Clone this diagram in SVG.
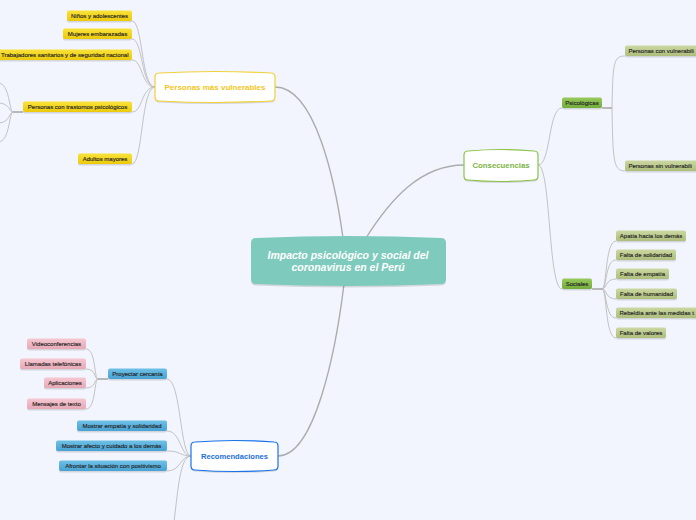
<svg xmlns="http://www.w3.org/2000/svg" width="696" height="520" viewBox="0 0 696 520">
<style>
.bg{fill:#f2f5fd}
.c{fill:none;stroke:#bcbcbc;stroke-width:0.9}
.cm{fill:none;stroke:#acacac;stroke-width:1.4}
.stub{fill:none;stroke:#a9a9a9;stroke-width:1.6}
.sh{fill:#000;opacity:0.13}
.t{font-family:"Liberation Sans",Arial,sans-serif;font-size:6px;fill:#262626;stroke:#262626;stroke-width:0.15;text-anchor:middle}
.tl{text-anchor:start}
.te{text-anchor:end}
.mt{font-family:"Liberation Sans",Arial,sans-serif;font-weight:bold;text-anchor:middle}
</style>
<defs>
<linearGradient id="gy" x1="0" y1="0" x2="0" y2="1"><stop offset="0" stop-color="#f9e23a"/><stop offset="1" stop-color="#ecca0a"/></linearGradient>
<linearGradient id="gg" x1="0" y1="0" x2="0" y2="1"><stop offset="0" stop-color="#98c95c"/><stop offset="1" stop-color="#72ad3a"/></linearGradient>
<linearGradient id="go" x1="0" y1="0" x2="0" y2="1"><stop offset="0" stop-color="#cbd8a2"/><stop offset="1" stop-color="#adbe7b"/></linearGradient>
<linearGradient id="gb" x1="0" y1="0" x2="0" y2="1"><stop offset="0" stop-color="#6fc0e6"/><stop offset="1" stop-color="#47a2d3"/></linearGradient>
<linearGradient id="gp" x1="0" y1="0" x2="0" y2="1"><stop offset="0" stop-color="#f5c8d1"/><stop offset="1" stop-color="#e8a8b6"/></linearGradient>
</defs>
<rect class="bg" x="0" y="0" width="696" height="520"/>

<g id="connectors">
<path class="cm" d="M343,238 C335,180 315,87 275,87"/>
<path class="cm" d="M366,238 C390,200 420,165 464,165"/>
<path class="cm" d="M344,284 C336,350 315,456 278,456"/>

<path class="c" d="M132,21 C143,21 141,87 155,87"/>
<path class="c" d="M132,39 C143,39 141,87 155,87"/>
<path class="c" d="M132,60 C143,60 141,87 155,87"/>
<path class="c" d="M132,112 C143,112 141,87 155,87"/>
<path class="c" d="M132,164 C143,164 141,87 155,87"/>

<path class="stub" d="M23,112 H13"/>
<path class="c" d="M13,112 C9,112 10,83 -2,83"/>
<path class="c" d="M13,112 C9,112 10,103 -2,103"/>
<path class="c" d="M13,112 C9,112 10,123 -2,123"/>
<path class="c" d="M13,112 C9,112 10,142 -2,142"/>

<path class="c" d="M538,165 C551,165 548,108 562,108"/>
<path class="c" d="M538,165 C551,165 548,289 562,289"/>

<path class="stub" d="M602,108 H612"/>
<path class="c" d="M612,108 C613,64 613,56 625,56"/>
<path class="c" d="M612,108 C613,160 613,171 625,171"/>

<path class="stub" d="M592,289 H602"/>
<path class="c" d="M602,289 C607,289 605,241 616,241"/>
<path class="c" d="M602,289 C607,289 605,260 616,260"/>
<path class="c" d="M602,289 C607,289 605,279 616,279"/>
<path class="c" d="M602,289 C607,289 605,299 616,299"/>
<path class="c" d="M602,289 C607,289 605,318 616,318"/>
<path class="c" d="M602,289 C607,289 605,338 616,338"/>

<path class="c" d="M191,456 C180,456 181,379 167,379"/>
<path class="c" d="M191,456 C180,456 181,431 167,431"/>
<path class="c" d="M191,456 C180,456 181,451 167,451"/>
<path class="c" d="M191,456 C180,456 181,471 167,471"/>
<path class="c" d="M191,456 C180,456 178,490 174,522"/>

<path class="stub" d="M108,379 H98"/>
<path class="c" d="M98,379 C94,379 96,349 86,349"/>
<path class="c" d="M98,379 C94,379 96,369 86,369"/>
<path class="c" d="M98,379 C94,379 96,388 86,388"/>
<path class="c" d="M98,379 C94,379 96,409 86,409"/>
</g>

<g id="root">
<path class="sh" transform="translate(0,1.5)" d="M256,238 Q348.5,234 441,238 Q446,238 446,243 L446,279 Q446,284 441,284 Q348.5,288 256,284 Q251,284 251,279 L251,243 Q251,238 256,238 Z"/>
<path fill="#7ecbbd" d="M256,238 Q348.5,234 441,238 Q446,238 446,243 L446,279 Q446,284 441,284 Q348.5,288 256,284 Q251,284 251,279 L251,243 Q251,238 256,238 Z"/>
<text class="mt" font-style="italic" font-size="10.5" fill="#ffffff" x="348" y="259">Impacto psicológico y social del</text>
<text class="mt" font-style="italic" font-size="10.5" fill="#ffffff" x="348" y="270.5">coronavirus en el Perú</text>
</g>

<g id="n-vulnerables">
<path class="sh" transform="translate(0,1.5)" d="M159,73 Q215,70 271,73 Q275,73 275,77 L275,97 Q275,101 271,101 Q215,104 159,101 Q155,101 155,97 L155,77 Q155,73 159,73 Z"/>
<path fill="#ffffff" stroke="#f1d13a" stroke-width="1.2" d="M159,73 Q215,70 271,73 Q275,73 275,77 L275,97 Q275,101 271,101 Q215,104 159,101 Q155,101 155,97 L155,77 Q155,73 159,73 Z"/>
<text class="mt" font-size="8" fill="#f3c61c" x="215" y="90.3">Personas más vulnerables</text>
</g>

<g id="n-consecuencias">
<path class="sh" transform="translate(0,1.5)" d="M468,151 Q501,148 534,151 Q538,151 538,155 L538,176 Q538,180 534,180 Q501,183 468,180 Q464,180 464,176 L464,155 Q464,151 468,151 Z"/>
<path fill="#ffffff" stroke="#8bc34a" stroke-width="1.2" d="M468,151 Q501,148 534,151 Q538,151 538,155 L538,176 Q538,180 534,180 Q501,183 468,180 Q464,180 464,176 L464,155 Q464,151 468,151 Z"/>
<text class="mt" font-size="7.8" fill="#7cb342" x="501" y="168.3">Consecuencias</text>
</g>

<g id="n-recomendaciones">
<path class="sh" transform="translate(0,1.5)" d="M195,442 Q234.5,439 274,442 Q278,442 278,446 L278,466 Q278,470 274,470 Q234.5,473 195,470 Q191,470 191,466 L191,446 Q191,442 195,442 Z"/>
<path fill="#ffffff" stroke="#1a73e8" stroke-width="1.2" d="M195,442 Q234.5,439 274,442 Q278,442 278,446 L278,466 Q278,470 274,470 Q234.5,473 195,470 Q191,470 191,466 L191,446 Q191,442 195,442 Z"/>
<text class="mt" font-size="7.6" fill="#1e6fd9" x="234.5" y="458.8">Recomendaciones</text>
</g>

<!-- yellow -->
<g id="n-ninos"><rect class="sh" x="67" y="12" width="65" height="10.5" rx="2"/><rect fill="url(#gy)" x="67" y="10.5" width="65" height="10.5" rx="2"/><text class="t" x="99.5" y="17.9">Niños y adolescentes</text></g>
<g id="n-mujeres"><rect class="sh" x="63" y="30" width="69" height="10.5" rx="2"/><rect fill="url(#gy)" x="63" y="28.5" width="69" height="10.5" rx="2"/><text class="t" x="97.5" y="35.9">Mujeres embarazadas</text></g>
<g id="n-trabajadores"><rect class="sh" x="-10" y="51" width="142" height="10.5" rx="2"/><rect fill="url(#gy)" x="-10" y="49.5" width="142" height="10.5" rx="2"/><text class="t te" x="128.5" y="56.9">Trabajadores sanitarios y de seguridad nacional</text></g>
<g id="n-trastornos"><rect class="sh" x="23" y="103" width="109" height="10.5" rx="2"/><rect fill="url(#gy)" x="23" y="101.5" width="109" height="10.5" rx="2"/><text class="t" x="77.5" y="108.9">Personas con trastornos psicológicos</text></g>
<g id="n-adultos"><rect class="sh" x="78" y="155" width="54" height="10.5" rx="2"/><rect fill="url(#gy)" x="78" y="153.5" width="54" height="10.5" rx="2"/><text class="t" x="105" y="160.9">Adultos mayores</text></g>

<!-- green -->
<g id="n-psicologicas"><rect class="sh" x="562" y="99" width="40" height="10.5" rx="2"/><rect fill="url(#gg)" x="562" y="97.5" width="40" height="10.5" rx="2"/><text class="t" x="582" y="104.9">Psicológicas</text></g>
<g id="n-sociales"><rect class="sh" x="562" y="280" width="30" height="10.5" rx="2"/><rect fill="url(#gg)" x="562" y="278.5" width="30" height="10.5" rx="2"/><text class="t" x="577" y="285.9">Sociales</text></g>

<!-- olive -->
<g id="n-con-vuln"><rect class="sh" x="625" y="47" width="90" height="10.5" rx="2"/><rect fill="url(#go)" x="625" y="45.5" width="90" height="10.5" rx="2"/><text class="t tl" x="628.5" y="52.9">Personas con vulnerabili</text></g>
<g id="n-sin-vuln"><rect class="sh" x="625" y="162" width="90" height="10.5" rx="2"/><rect fill="url(#go)" x="625" y="160.5" width="90" height="10.5" rx="2"/><text class="t tl" x="628.5" y="167.9">Personas sin vulnerabili</text></g>
<g id="n-apatia"><rect class="sh" x="616" y="232" width="70" height="10.5" rx="2"/><rect fill="url(#go)" x="616" y="230.5" width="70" height="10.5" rx="2"/><text class="t" x="651" y="237.9">Apatía hacia los demás</text></g>
<g id="n-solidaridad"><rect class="sh" x="616" y="251" width="60" height="10.5" rx="2"/><rect fill="url(#go)" x="616" y="249.5" width="60" height="10.5" rx="2"/><text class="t" x="646" y="256.9">Falta de solidaridad</text></g>
<g id="n-empatia"><rect class="sh" x="616" y="270" width="53" height="10.5" rx="2"/><rect fill="url(#go)" x="616" y="268.5" width="53" height="10.5" rx="2"/><text class="t" x="642.5" y="275.9">Falta de empatía</text></g>
<g id="n-humanidad"><rect class="sh" x="616" y="290" width="61" height="10.5" rx="2"/><rect fill="url(#go)" x="616" y="288.5" width="61" height="10.5" rx="2"/><text class="t" x="646.5" y="295.9">Falta de humanidad</text></g>
<g id="n-rebeldia"><rect class="sh" x="616" y="309" width="110" height="10.5" rx="2"/><rect fill="url(#go)" x="616" y="307.5" width="110" height="10.5" rx="2"/><text class="t tl" x="619.5" y="314.9">Rebeldía ante las medidas t</text></g>
<g id="n-valores"><rect class="sh" x="616" y="329" width="50" height="10.5" rx="2"/><rect fill="url(#go)" x="616" y="327.5" width="50" height="10.5" rx="2"/><text class="t" x="641" y="334.9">Falta de valores</text></g>

<!-- blue -->
<g id="n-proyectar"><rect class="sh" x="108" y="370" width="59" height="10.5" rx="2"/><rect fill="url(#gb)" x="108" y="368.5" width="59" height="10.5" rx="2"/><text class="t" x="137.5" y="375.9">Proyectar cercanía</text></g>
<g id="n-mostrar-empatia"><rect class="sh" x="77" y="422" width="90" height="10.5" rx="2"/><rect fill="url(#gb)" x="77" y="420.5" width="90" height="10.5" rx="2"/><text class="t" x="122" y="427.9">Mostrar empatía y solidaridad</text></g>
<g id="n-mostrar-afecto"><rect class="sh" x="56" y="442" width="111" height="10.5" rx="2"/><rect fill="url(#gb)" x="56" y="440.5" width="111" height="10.5" rx="2"/><text class="t" x="111.5" y="447.9">Mostrar afecto y cuidado a los demás</text></g>
<g id="n-afrontar"><rect class="sh" x="59" y="462" width="108" height="10.5" rx="2"/><rect fill="url(#gb)" x="59" y="460.5" width="108" height="10.5" rx="2"/><text class="t" x="113" y="467.9">Afrontar la situación con positivismo</text></g>

<!-- pink -->
<g id="n-video"><rect class="sh" x="27" y="340" width="59" height="10.5" rx="2"/><rect fill="url(#gp)" x="27" y="338.5" width="59" height="10.5" rx="2"/><text class="t" x="56.5" y="345.9">Videoconferencias</text></g>
<g id="n-llamadas"><rect class="sh" x="20" y="360" width="66" height="10.5" rx="2"/><rect fill="url(#gp)" x="20" y="358.5" width="66" height="10.5" rx="2"/><text class="t" x="53" y="365.9">Llamadas telefónicas</text></g>
<g id="n-aplicaciones"><rect class="sh" x="44" y="379" width="42" height="10.5" rx="2"/><rect fill="url(#gp)" x="44" y="377.5" width="42" height="10.5" rx="2"/><text class="t" x="65" y="384.9">Aplicaciones</text></g>
<g id="n-mensajes"><rect class="sh" x="27" y="400" width="59" height="10.5" rx="2"/><rect fill="url(#gp)" x="27" y="398.5" width="59" height="10.5" rx="2"/><text class="t" x="56.5" y="405.9">Mensajes de texto</text></g>
</svg>
